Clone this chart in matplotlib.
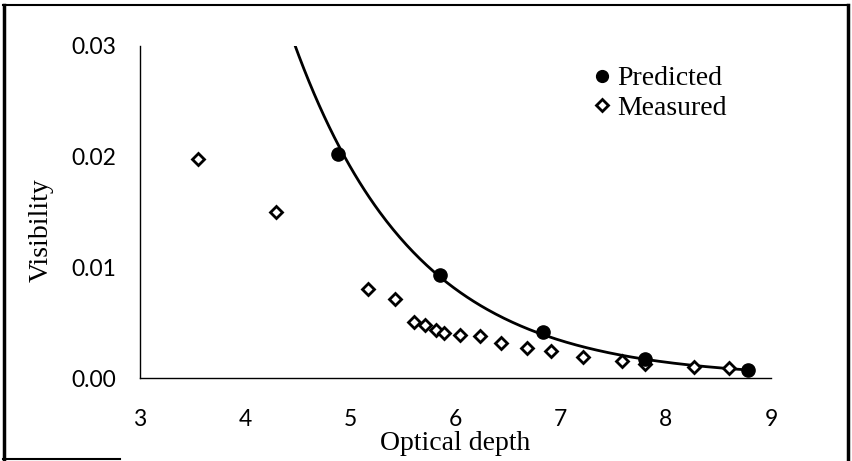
import numpy as np
import matplotlib
matplotlib.use("Agg")
import matplotlib.pyplot as plt
from matplotlib.lines import Line2D

# Predicted visibility at each optical depth
pred_depth = [4.88, 5.85, 6.83, 7.80, 8.78]
pred_vis = [0.0202, 0.0093, 0.0042, 0.0017, 0.0007]

# Measured visibility
meas_depth = [3.55, 4.29, 5.17, 5.42, 5.61, 5.71, 5.81, 5.89, 6.04, 6.23,
              6.43, 6.68, 6.91, 7.21, 7.58, 7.80, 8.27, 8.60]
meas_vis = [0.0198, 0.0150, 0.0080, 0.0071, 0.0051, 0.0048, 0.0043, 0.0041,
            0.0039, 0.0038, 0.0032, 0.0027, 0.0024, 0.0019, 0.0015, 0.0013,
            0.0010, 0.0009]

xticks = [3, 4, 5, 6, 7, 8, 9]
yticks = [0.00, 0.01, 0.02, 0.03]
ytick_labels = ["0.00", "0.01", "0.02", "0.03"]

fig = plt.figure(figsize=(8.52, 4.61), dpi=100)
ax = fig.add_axes([140 / 852, 1 - 378 / 461, 631 / 852, 332 / 461])

# Exponential trendline through the predicted values
slope, intercept = np.polyfit(pred_depth, np.log(pred_vis), 1)
x_fit = np.linspace(4.0, max(pred_depth), 300)
y_fit = np.exp(intercept + slope * x_fit)
ax.plot(x_fit, y_fit, color="black", lw=2.0, zorder=2, clip_on=True)

ax.plot(meas_depth, meas_vis, linestyle="none", marker="D", markersize=6.5,
        markerfacecolor="white", markeredgecolor="black", markeredgewidth=2.0,
        zorder=3)
ax.plot(pred_depth, pred_vis, linestyle="none", marker="o", markersize=9.5,
        markerfacecolor="black", markeredgecolor="black", zorder=4)

ax.set_xlim(3, 9)
ax.set_ylim(0, 0.03)
ax.set_xticks(xticks)
ax.set_yticks(yticks)
ax.set_yticklabels(ytick_labels)
ax.tick_params(length=0, labelsize=16.5)
ax.tick_params(axis="y", pad=17)
ax.tick_params(axis="x", pad=22)
for lab in ax.get_xticklabels() + ax.get_yticklabels():
    lab.set_fontfamily("Lato")

for side in ("top", "right"):
    ax.spines[side].set_visible(False)
for side in ("left", "bottom"):
    ax.spines[side].set_linewidth(1.0)
    ax.spines[side].set_color("black")

serif = "Liberation Serif"
ax.set_xlabel("Optical depth", fontsize=20, fontfamily=serif)
ax.set_ylabel("Visibility", fontsize=20, fontfamily=serif)
ax.xaxis.set_label_coords(0.5, -0.196)
ax.xaxis.label.set_va("center")
ax.yaxis.set_label_coords(-0.157, 0.446)
ax.yaxis.label.set_va("center")

handles = [
    Line2D([], [], linestyle="none", marker="o", markersize=8.5,
           markerfacecolor="black", markeredgecolor="black"),
    Line2D([], [], linestyle="none", marker="D", markersize=6,
           markerfacecolor="white", markeredgecolor="black",
           markeredgewidth=2.0),
]
leg = ax.legend(handles, ["Predicted", "Measured"], loc="upper left",
                bbox_to_anchor=((594 - 140) / 631, (378 - 66) / 332),
                frameon=False, handlelength=0.6, handletextpad=0.25,
                labelspacing=0.15, borderaxespad=0, borderpad=0,
                prop={"family": serif, "size": 20})

# Frame around the figure
W, H = 852, 461
def fline(x0, y0, x1, y1, lw):
    fig.add_artist(Line2D([x0 / W, x1 / W], [1 - y0 / H, 1 - y1 / H],
                          color="black", lw=lw, transform=fig.transFigure))

fline(4, 5, 4, 461, 2.5)
fline(3, 5, 849, 5, 1.5)
fline(848, 5, 848, 461, 2.5)
fline(3, 459, 120, 459, 1.5)

fig.savefig("out.png", dpi=100, facecolor="white")
